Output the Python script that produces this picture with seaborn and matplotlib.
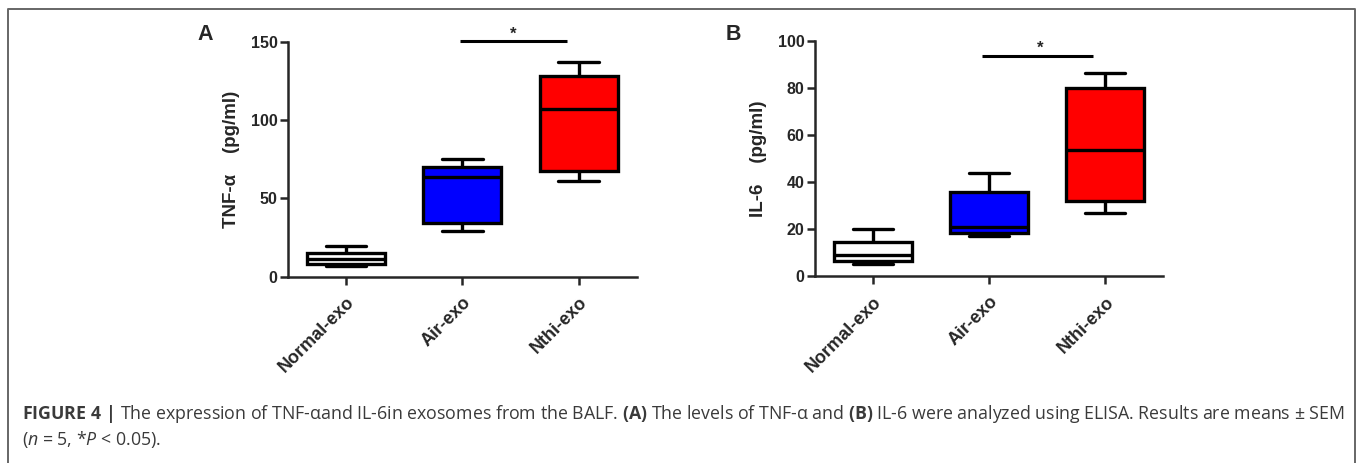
import numpy as np
import pandas as pd
import matplotlib
matplotlib.use("Agg")
import matplotlib.pyplot as plt
import seaborn as sns

# ---- data (five-number summaries: min, Q1, median, Q3, max) ----
groups = ["Normal-exo", "Air-exo", "Nthi-exo"]
tnf_normal = [6.6, 7.9, 11.5, 14.9, 19.8]
tnf_air = [28.9, 34.5, 63.4, 70.0, 74.9]
tnf_nthi = [61.0, 67.4, 106.8, 127.9, 137.2]
il6_normal = [5.2, 6.4, 8.8, 14.6, 19.8]
il6_air = [17.0, 18.1, 21.0, 35.8, 43.8]
il6_nthi = [26.9, 31.9, 53.5, 80.0, 86.3]
box_colors = ["#ffffff", "#0000ff", "#ff0000"]
tnf_ticks = [0, 50, 100, 150]
il6_ticks = [0, 20, 40, 60, 80, 100]

sns.set_theme(style="ticks")
plt.rcParams["font.family"] = ["Liberation Sans", "DejaVu Sans"]
plt.rcParams["mathtext.fontset"] = "custom"
plt.rcParams["mathtext.rm"] = "Open Sans"
plt.rcParams["mathtext.bf"] = "Open Sans:bold"
plt.rcParams["mathtext.it"] = "Open Sans:italic"

fig = plt.figure(figsize=(13.57, 4.63), dpi=100)

def make_df(vals):
    rows = []
    for g, v in zip(groups, vals):
        for x in v:
            rows.append((g, x))
    return pd.DataFrame(rows, columns=["group", "value"])

def panel(rect, vals, ticks, ylabel, letter, letter_xy, sig_y, star_y, sig_start):
    ax = fig.add_axes(rect)
    df = make_df(vals)
    sns.boxplot(data=df, x="group", y="value", hue="group", order=groups,
                hue_order=groups, palette=box_colors, saturation=1,
                whis=(0, 100), width=0.67, linewidth=2.4, linecolor="black",
                legend=False, ax=ax, capwidths=0.35, showfliers=False)
    ax.set_xlim(-0.5, 2.5)
    ax.set_ylim(ticks[0], ticks[-1])
    ax.set_yticks(ticks)
    ax.set_xlabel("")
    ax.set_ylabel(ylabel, fontsize=13.5, fontweight="bold", labelpad=8)
    sns.despine(ax=ax)
    for s in ["left", "bottom"]:
        ax.spines[s].set_linewidth(1.8)
    ax.tick_params(axis="y", width=1.8, length=5.5, pad=2, labelsize=11.5)
    ax.tick_params(axis="x", width=1.8, length=5.5, pad=7, labelsize=13)
    for lab in ax.get_yticklabels():
        lab.set_fontweight("bold")
    ax.set_xticks(range(len(groups)))
    ax.set_xticklabels(groups, rotation=45, ha="right", va="top",
                       rotation_mode="anchor", fontweight="bold", fontsize=13)
    # significance bar between Air-exo and Nthi-exo
    i1, i2 = groups.index("Air-exo"), groups.index("Nthi-exo")
    ax.plot([i1 + sig_start, i2 - 0.1], [sig_y, sig_y], color="black", lw=2.2,
            clip_on=False, solid_capstyle="butt")
    ax.text((i1 + i2) / 2 - 0.06, star_y, "*", ha="center", va="center",
            fontsize=12, fontweight="bold", clip_on=False)
    fig.text(letter_xy[0], letter_xy[1], letter, fontsize=15.5, fontweight="bold",
             ha="left", va="center")
    return ax

panel([0.2122, 0.4024, 0.2572, 0.5076], [tnf_normal, tnf_air, tnf_nthi],
      tnf_ticks, "TNF-α    (pg/ml)", "A", (197 / 1357, 1 - 35 / 463), 150.4, 154.5, -0.02)
panel([0.6006, 0.4039, 0.2565, 0.5082], [il6_normal, il6_air, il6_nthi],
      il6_ticks, "IL-6    (pg/ml)", "B", (726 / 1357, 1 - 35 / 463), 93.6, 96.8, -0.06)

# frame around the figure panel (open at bottom)
fx0, fx1, fy0 = 8 / 1357, 1355 / 1357, 1 - 9 / 463
fig.add_artist(plt.Line2D([fx0, fx0, fx1, fx1], [0, fy0, fy0, 0],
                          transform=fig.transFigure, color="#666666", lw=1.4))

cap1 = (r"$\mathbf{FIGURE\ 4\ |}$ The expression of TNF-αand IL-6in exosomes from the BALF. "
        r"$\mathbf{(A)}$ The levels of TNF-α and $\mathbf{(B)}$ IL-6 were analyzed using ELISA. "
        r"Results are means ± SEM")
cap2 = r"($\mathit{n}$ = 5, *$\mathit{P}$ < 0.05)."
fs = 11.5
t1 = fig.text(22 / 1357, 1 - 414 / 463, cap1, fontsize=fs, color="#3a3a3a",
              ha="left", va="center", family="Open Sans")
t2 = fig.text(22 / 1357, 1 - 440 / 463, cap2, fontsize=fs, color="#3a3a3a",
              ha="left", va="center", family="Open Sans")
fig.canvas.draw()
w = t1.get_window_extent().width
fs2 = fs * (1324 / w)
t1.set_fontsize(fs2)
t2.set_fontsize(fs2)

fig.savefig("out.png", dpi=100)
